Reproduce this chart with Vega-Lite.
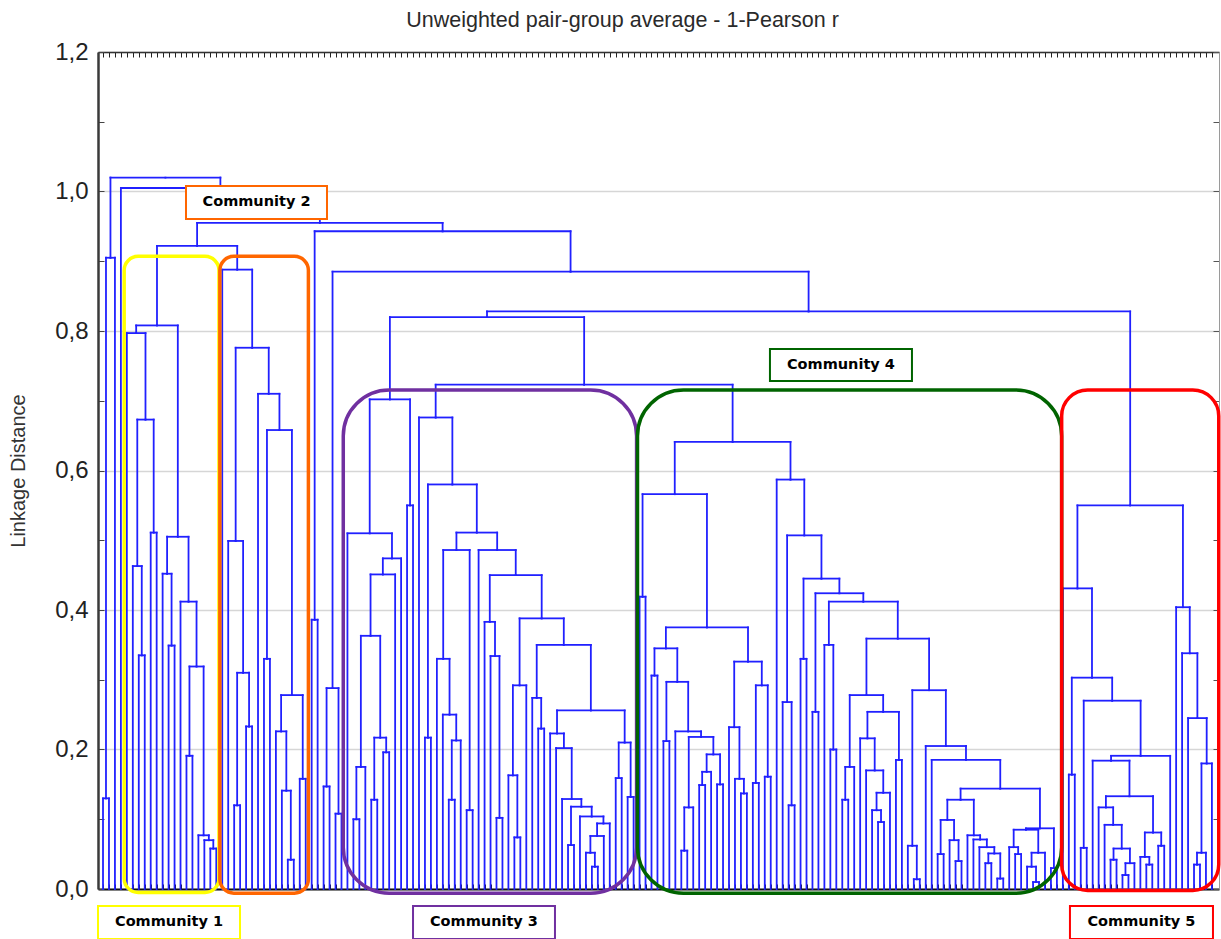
{
"$schema":"https://vega.github.io/schema/vega-lite/v6.json",
"width":1121,"height":837,
"autosize":{"type":"none"},
"padding":{"left":98,"top":52,"right":2,"bottom":50},
"background":"white",
"title":{"text":"Unweighted pair-group average - 1-Pearson r","font":"Liberation Sans, Arial, sans-serif","fontSize":21.5,"fontWeight":"normal","color":"#2a2a2a","anchor":"middle","dx":-36,"offset":-8,"baseline":"alphabetic"},
"config":{"view":{"stroke":null}},
"datasets":{
"links":[
{"x":0,"h":0,"px":0.5,"ph":0.13},{"x":1,"h":0,"px":0.5,"ph":0.13},
{"x":0.5,"h":0.13,"px":1.25,"ph":0.905},{"x":2,"h":0,"px":1.25,"ph":0.905},
{"x":1.25,"h":0.905,"px":10.469,"ph":1.02},{"x":19.687,"h":1.005,"px":10.469,"ph":1.02},
{"x":3,"h":0,"px":19.687,"ph":1.005},{"x":36.373,"h":0.955,"px":19.687,"ph":1.005},
{"x":15.783,"h":0.922,"px":36.373,"ph":0.955},{"x":56.963,"h":0.943,"px":36.373,"ph":0.955},
{"x":9.055,"h":0.808,"px":15.783,"ph":0.922},{"x":22.512,"h":0.888,"px":15.783,"ph":0.922},
{"x":35.5,"h":0.386,"px":56.963,"ph":0.943},{"x":78.426,"h":0.885,"px":56.963,"ph":0.943},
{"x":38.5,"h":0.288,"px":78.426,"ph":0.885},{"x":118.351,"h":0.828,"px":78.426,"ph":0.885},
{"x":64.41,"h":0.82,"px":118.351,"ph":0.828},{"x":172.292,"h":0.55,"px":118.351,"ph":0.828},
{"x":48.117,"h":0.702,"px":64.41,"ph":0.82},{"x":80.703,"h":0.723,"px":64.41,"ph":0.82},
{"x":55.799,"h":0.676,"px":80.703,"ph":0.723},{"x":105.607,"h":0.641,"px":80.703,"ph":0.723},
{"x":95.901,"h":0.566,"px":105.607,"ph":0.641},{"x":115.314,"h":0.587,"px":105.607,"ph":0.641},
{"x":6,"h":0,"px":6.5,"ph":0.335},{"x":7,"h":0,"px":6.5,"ph":0.335},
{"x":5,"h":0,"px":5.75,"ph":0.463},{"x":6.5,"h":0.335,"px":5.75,"ph":0.463},
{"x":8,"h":0,"px":8.5,"ph":0.511},{"x":9,"h":0,"px":8.5,"ph":0.511},
{"x":5.75,"h":0.463,"px":7.125,"ph":0.673},{"x":8.5,"h":0.511,"px":7.125,"ph":0.673},
{"x":4,"h":0,"px":5.563,"ph":0.797},{"x":7.125,"h":0.673,"px":5.563,"ph":0.797},
{"x":11,"h":0,"px":11.5,"ph":0.349},{"x":12,"h":0,"px":11.5,"ph":0.349},
{"x":10,"h":0,"px":10.75,"ph":0.452},{"x":11.5,"h":0.349,"px":10.75,"ph":0.452},
{"x":14,"h":0,"px":14.5,"ph":0.191},{"x":15,"h":0,"px":14.5,"ph":0.191},
{"x":18,"h":0,"px":18.5,"ph":0.058},{"x":19,"h":0,"px":18.5,"ph":0.058},
{"x":17,"h":0,"px":17.75,"ph":0.07},{"x":18.5,"h":0.058,"px":17.75,"ph":0.07},
{"x":16,"h":0,"px":16.875,"ph":0.077},{"x":17.75,"h":0.07,"px":16.875,"ph":0.077},
{"x":14.5,"h":0.191,"px":15.688,"ph":0.319},{"x":16.875,"h":0.077,"px":15.688,"ph":0.319},
{"x":13,"h":0,"px":14.344,"ph":0.412},{"x":15.688,"h":0.319,"px":14.344,"ph":0.412},
{"x":10.75,"h":0.452,"px":12.547,"ph":0.505},{"x":14.344,"h":0.412,"px":12.547,"ph":0.505},
{"x":5.563,"h":0.797,"px":9.055,"ph":0.808},{"x":12.547,"h":0.505,"px":9.055,"ph":0.808},
{"x":22,"h":0,"px":22.5,"ph":0.12},{"x":23,"h":0,"px":22.5,"ph":0.12},
{"x":24,"h":0,"px":24.5,"ph":0.233},{"x":25,"h":0,"px":24.5,"ph":0.233},
{"x":22.5,"h":0.12,"px":23.5,"ph":0.31},{"x":24.5,"h":0.233,"px":23.5,"ph":0.31},
{"x":21,"h":0,"px":22.25,"ph":0.499},{"x":23.5,"h":0.31,"px":22.25,"ph":0.499},
{"x":27,"h":0,"px":27.5,"ph":0.33},{"x":28,"h":0,"px":27.5,"ph":0.33},
{"x":31,"h":0,"px":31.5,"ph":0.042},{"x":32,"h":0,"px":31.5,"ph":0.042},
{"x":30,"h":0,"px":30.75,"ph":0.141},{"x":31.5,"h":0.042,"px":30.75,"ph":0.141},
{"x":29,"h":0,"px":29.875,"ph":0.226},{"x":30.75,"h":0.141,"px":29.875,"ph":0.226},
{"x":33,"h":0,"px":33.5,"ph":0.158},{"x":34,"h":0,"px":33.5,"ph":0.158},
{"x":29.875,"h":0.226,"px":31.688,"ph":0.278},{"x":33.5,"h":0.158,"px":31.688,"ph":0.278},
{"x":27.5,"h":0.33,"px":29.594,"ph":0.658},{"x":31.688,"h":0.278,"px":29.594,"ph":0.658},
{"x":26,"h":0,"px":27.797,"ph":0.71},{"x":29.594,"h":0.658,"px":27.797,"ph":0.71},
{"x":22.25,"h":0.499,"px":25.023,"ph":0.776},{"x":27.797,"h":0.71,"px":25.023,"ph":0.776},
{"x":20,"h":0,"px":22.512,"ph":0.888},{"x":25.023,"h":0.776,"px":22.512,"ph":0.888},
{"x":35,"h":0,"px":35.5,"ph":0.386},{"x":36,"h":0,"px":35.5,"ph":0.386},
{"x":37,"h":0,"px":37.5,"ph":0.147},{"x":38,"h":0,"px":37.5,"ph":0.147},
{"x":39,"h":0,"px":39.5,"ph":0.108},{"x":40,"h":0,"px":39.5,"ph":0.108},
{"x":37.5,"h":0.147,"px":38.5,"ph":0.288},{"x":39.5,"h":0.108,"px":38.5,"ph":0.288},
{"x":42,"h":0,"px":42.5,"ph":0.1},{"x":43,"h":0,"px":42.5,"ph":0.1},
{"x":42.5,"h":0.1,"px":43.25,"ph":0.175},{"x":44,"h":0,"px":43.25,"ph":0.175},
{"x":45,"h":0,"px":45.5,"ph":0.128},{"x":46,"h":0,"px":45.5,"ph":0.128},
{"x":47,"h":0,"px":47.5,"ph":0.196},{"x":48,"h":0,"px":47.5,"ph":0.196},
{"x":45.5,"h":0.128,"px":46.5,"ph":0.217},{"x":47.5,"h":0.196,"px":46.5,"ph":0.217},
{"x":43.25,"h":0.175,"px":44.875,"ph":0.363},{"x":46.5,"h":0.217,"px":44.875,"ph":0.363},
{"x":44.875,"h":0.363,"px":46.938,"ph":0.451},{"x":49,"h":0,"px":46.938,"ph":0.451},
{"x":46.938,"h":0.451,"px":48.469,"ph":0.474},{"x":50,"h":0,"px":48.469,"ph":0.474},
{"x":41,"h":0,"px":44.734,"ph":0.51},{"x":48.469,"h":0.474,"px":44.734,"ph":0.51},
{"x":51,"h":0,"px":51.5,"ph":0.55},{"x":52,"h":0,"px":51.5,"ph":0.55},
{"x":44.734,"h":0.51,"px":48.117,"ph":0.702},{"x":51.5,"h":0.55,"px":48.117,"ph":0.702},
{"x":54,"h":0,"px":54.5,"ph":0.217},{"x":55,"h":0,"px":54.5,"ph":0.217},
{"x":58,"h":0,"px":58.5,"ph":0.128},{"x":59,"h":0,"px":58.5,"ph":0.128},
{"x":58.5,"h":0.128,"px":59.25,"ph":0.213},{"x":60,"h":0,"px":59.25,"ph":0.213},
{"x":57,"h":0,"px":58.125,"ph":0.25},{"x":59.25,"h":0.213,"px":58.125,"ph":0.25},
{"x":56,"h":0,"px":57.063,"ph":0.33},{"x":58.125,"h":0.25,"px":57.063,"ph":0.33},
{"x":61,"h":0,"px":61.5,"ph":0.113},{"x":62,"h":0,"px":61.5,"ph":0.113},
{"x":57.063,"h":0.33,"px":59.281,"ph":0.486},{"x":61.5,"h":0.113,"px":59.281,"ph":0.486},
{"x":66,"h":0,"px":66.5,"ph":0.102},{"x":67,"h":0,"px":66.5,"ph":0.102},
{"x":65,"h":0,"px":65.75,"ph":0.334},{"x":66.5,"h":0.102,"px":65.75,"ph":0.334},
{"x":64,"h":0,"px":64.875,"ph":0.383},{"x":65.75,"h":0.334,"px":64.875,"ph":0.383},
{"x":69,"h":0,"px":69.5,"ph":0.074},{"x":70,"h":0,"px":69.5,"ph":0.074},
{"x":68,"h":0,"px":68.75,"ph":0.163},{"x":69.5,"h":0.074,"px":68.75,"ph":0.163},
{"x":68.75,"h":0.163,"px":69.875,"ph":0.292},{"x":71,"h":0,"px":69.875,"ph":0.292},
{"x":73,"h":0,"px":73.5,"ph":0.23},{"x":74,"h":0,"px":73.5,"ph":0.23},
{"x":72,"h":0,"px":72.75,"ph":0.274},{"x":73.5,"h":0.23,"px":72.75,"ph":0.274},
{"x":82,"h":0,"px":82.5,"ph":0.032},{"x":83,"h":0,"px":82.5,"ph":0.032},
{"x":81,"h":0,"px":81.75,"ph":0.052},{"x":82.5,"h":0.032,"px":81.75,"ph":0.052},
{"x":81.75,"h":0.052,"px":82.875,"ph":0.076},{"x":84,"h":0,"px":82.875,"ph":0.076},
{"x":82.875,"h":0.076,"px":83.938,"ph":0.094},{"x":85,"h":0,"px":83.938,"ph":0.094},
{"x":80,"h":0,"px":81.969,"ph":0.104},{"x":83.938,"h":0.094,"px":81.969,"ph":0.104},
{"x":78,"h":0,"px":78.5,"ph":0.063},{"x":79,"h":0,"px":78.5,"ph":0.063},
{"x":78.5,"h":0.063,"px":80.234,"ph":0.118},{"x":81.969,"h":0.104,"px":80.234,"ph":0.118},
{"x":77,"h":0,"px":78.617,"ph":0.129},{"x":80.234,"h":0.118,"px":78.617,"ph":0.129},
{"x":76,"h":0,"px":77.309,"ph":0.202},{"x":78.617,"h":0.129,"px":77.309,"ph":0.202},
{"x":75,"h":0,"px":76.154,"ph":0.223},{"x":77.309,"h":0.202,"px":76.154,"ph":0.223},
{"x":86,"h":0,"px":86.5,"ph":0.159},{"x":87,"h":0,"px":86.5,"ph":0.159},
{"x":88,"h":0,"px":88.5,"ph":0.132},{"x":89,"h":0,"px":88.5,"ph":0.132},
{"x":86.5,"h":0.159,"px":87.5,"ph":0.21},{"x":88.5,"h":0.132,"px":87.5,"ph":0.21},
{"x":76.154,"h":0.223,"px":81.827,"ph":0.256},{"x":87.5,"h":0.21,"px":81.827,"ph":0.256},
{"x":72.75,"h":0.274,"px":77.289,"ph":0.35},{"x":81.827,"h":0.256,"px":77.289,"ph":0.35},
{"x":69.875,"h":0.292,"px":73.582,"ph":0.388},{"x":77.289,"h":0.35,"px":73.582,"ph":0.388},
{"x":64.875,"h":0.383,"px":69.228,"ph":0.45},{"x":73.582,"h":0.388,"px":69.228,"ph":0.45},
{"x":63,"h":0,"px":66.114,"ph":0.486},{"x":69.228,"h":0.45,"px":66.114,"ph":0.486},
{"x":59.281,"h":0.486,"px":62.698,"ph":0.511},{"x":66.114,"h":0.486,"px":62.698,"ph":0.511},
{"x":54.5,"h":0.217,"px":58.599,"ph":0.58},{"x":62.698,"h":0.511,"px":58.599,"ph":0.58},
{"x":53,"h":0,"px":55.799,"ph":0.676},{"x":58.599,"h":0.58,"px":55.799,"ph":0.676},
{"x":90,"h":0,"px":90.5,"ph":0.419},{"x":91,"h":0,"px":90.5,"ph":0.419},
{"x":92,"h":0,"px":92.5,"ph":0.306},{"x":93,"h":0,"px":92.5,"ph":0.306},
{"x":94,"h":0,"px":94.5,"ph":0.212},{"x":95,"h":0,"px":94.5,"ph":0.212},
{"x":97,"h":0,"px":97.5,"ph":0.055},{"x":98,"h":0,"px":97.5,"ph":0.055},
{"x":97.5,"h":0.055,"px":98.25,"ph":0.117},{"x":99,"h":0,"px":98.25,"ph":0.117},
{"x":100,"h":0,"px":100.5,"ph":0.149},{"x":101,"h":0,"px":100.5,"ph":0.149},
{"x":100.5,"h":0.149,"px":101.25,"ph":0.168},{"x":102,"h":0,"px":101.25,"ph":0.168},
{"x":103,"h":0,"px":103.5,"ph":0.15},{"x":104,"h":0,"px":103.5,"ph":0.15},
{"x":101.25,"h":0.168,"px":102.375,"ph":0.193},{"x":103.5,"h":0.15,"px":102.375,"ph":0.193},
{"x":98.25,"h":0.117,"px":100.313,"ph":0.218},{"x":102.375,"h":0.193,"px":100.313,"ph":0.218},
{"x":96,"h":0,"px":98.156,"ph":0.226},{"x":100.313,"h":0.218,"px":98.156,"ph":0.226},
{"x":94.5,"h":0.212,"px":96.328,"ph":0.297},{"x":98.156,"h":0.226,"px":96.328,"ph":0.297},
{"x":92.5,"h":0.306,"px":94.414,"ph":0.345},{"x":96.328,"h":0.297,"px":94.414,"ph":0.345},
{"x":107,"h":0,"px":107.5,"ph":0.137},{"x":108,"h":0,"px":107.5,"ph":0.137},
{"x":106,"h":0,"px":106.75,"ph":0.158},{"x":107.5,"h":0.137,"px":106.75,"ph":0.158},
{"x":105,"h":0,"px":105.875,"ph":0.232},{"x":106.75,"h":0.158,"px":105.875,"ph":0.232},
{"x":109,"h":0,"px":109.5,"ph":0.152},{"x":110,"h":0,"px":109.5,"ph":0.152},
{"x":111,"h":0,"px":111.5,"ph":0.161},{"x":112,"h":0,"px":111.5,"ph":0.161},
{"x":109.5,"h":0.152,"px":110.5,"ph":0.292},{"x":111.5,"h":0.161,"px":110.5,"ph":0.292},
{"x":105.875,"h":0.232,"px":108.188,"ph":0.326},{"x":110.5,"h":0.292,"px":108.188,"ph":0.326},
{"x":94.414,"h":0.345,"px":101.301,"ph":0.375},{"x":108.188,"h":0.326,"px":101.301,"ph":0.375},
{"x":90.5,"h":0.419,"px":95.901,"ph":0.566},{"x":101.301,"h":0.375,"px":95.901,"ph":0.566},
{"x":115,"h":0,"px":115.5,"ph":0.12},{"x":116,"h":0,"px":115.5,"ph":0.12},
{"x":114,"h":0,"px":114.75,"ph":0.268},{"x":115.5,"h":0.12,"px":114.75,"ph":0.268},
{"x":117,"h":0,"px":117.5,"ph":0.33},{"x":118,"h":0,"px":117.5,"ph":0.33},
{"x":119,"h":0,"px":119.5,"ph":0.254},{"x":120,"h":0,"px":119.5,"ph":0.254},
{"x":122,"h":0,"px":122.5,"ph":0.2},{"x":123,"h":0,"px":122.5,"ph":0.2},
{"x":121,"h":0,"px":121.75,"ph":0.35},{"x":122.5,"h":0.2,"px":121.75,"ph":0.35},
{"x":124,"h":0,"px":124.5,"ph":0.128},{"x":125,"h":0,"px":124.5,"ph":0.128},
{"x":124.5,"h":0.128,"px":125.25,"ph":0.175},{"x":126,"h":0,"px":125.25,"ph":0.175},
{"x":130,"h":0,"px":130.5,"ph":0.096},{"x":131,"h":0,"px":130.5,"ph":0.096},
{"x":129,"h":0,"px":129.75,"ph":0.113},{"x":130.5,"h":0.096,"px":129.75,"ph":0.113},
{"x":129.75,"h":0.113,"px":130.875,"ph":0.138},{"x":132,"h":0,"px":130.875,"ph":0.138},
{"x":128,"h":0,"px":129.438,"ph":0.17},{"x":130.875,"h":0.138,"px":129.438,"ph":0.17},
{"x":127,"h":0,"px":128.219,"ph":0.216},{"x":129.438,"h":0.17,"px":128.219,"ph":0.216},
{"x":133,"h":0,"px":133.5,"ph":0.185},{"x":134,"h":0,"px":133.5,"ph":0.185},
{"x":128.219,"h":0.216,"px":130.859,"ph":0.254},{"x":133.5,"h":0.185,"px":130.859,"ph":0.254},
{"x":125.25,"h":0.175,"px":128.055,"ph":0.278},{"x":130.859,"h":0.254,"px":128.055,"ph":0.278},
{"x":136,"h":0,"px":136.5,"ph":0.014},{"x":137,"h":0,"px":136.5,"ph":0.014},
{"x":135,"h":0,"px":135.75,"ph":0.062},{"x":136.5,"h":0.014,"px":135.75,"ph":0.062},
{"x":140,"h":0,"px":140.5,"ph":0.05},{"x":141,"h":0,"px":140.5,"ph":0.05},
{"x":143,"h":0,"px":143.5,"ph":0.04},{"x":144,"h":0,"px":143.5,"ph":0.04},
{"x":142,"h":0,"px":142.75,"ph":0.07},{"x":143.5,"h":0.04,"px":142.75,"ph":0.07},
{"x":140.5,"h":0.05,"px":141.625,"ph":0.099},{"x":142.75,"h":0.07,"px":141.625,"ph":0.099},
{"x":148,"h":0,"px":148.5,"ph":0.037},{"x":149,"h":0,"px":148.5,"ph":0.037},
{"x":150,"h":0,"px":150.5,"ph":0.015},{"x":151,"h":0,"px":150.5,"ph":0.015},
{"x":148.5,"h":0.037,"px":149.5,"ph":0.051},{"x":150.5,"h":0.015,"px":149.5,"ph":0.051},
{"x":147,"h":0,"px":148.25,"ph":0.06},{"x":149.5,"h":0.051,"px":148.25,"ph":0.06},
{"x":146,"h":0,"px":147.125,"ph":0.071},{"x":148.25,"h":0.06,"px":147.125,"ph":0.071},
{"x":145,"h":0,"px":146.063,"ph":0.077},{"x":147.125,"h":0.071,"px":146.063,"ph":0.077},
{"x":141.625,"h":0.099,"px":143.844,"ph":0.128},{"x":146.063,"h":0.077,"px":143.844,"ph":0.128},
{"x":153,"h":0,"px":153.5,"ph":0.05},{"x":154,"h":0,"px":153.5,"ph":0.05},
{"x":152,"h":0,"px":152.75,"ph":0.06},{"x":153.5,"h":0.05,"px":152.75,"ph":0.06},
{"x":156,"h":0,"px":156.5,"ph":0.01},{"x":157,"h":0,"px":156.5,"ph":0.01},
{"x":155,"h":0,"px":155.75,"ph":0.032},{"x":156.5,"h":0.01,"px":155.75,"ph":0.032},
{"x":155.75,"h":0.032,"px":156.875,"ph":0.052},{"x":158,"h":0,"px":156.875,"ph":0.052},
{"x":152.75,"h":0.06,"px":154.813,"ph":0.085},{"x":156.875,"h":0.052,"px":154.813,"ph":0.085},
{"x":159,"h":0,"px":159.5,"ph":0.03},{"x":160,"h":0,"px":159.5,"ph":0.03},
{"x":154.813,"h":0.085,"px":157.156,"ph":0.087},{"x":159.5,"h":0.03,"px":157.156,"ph":0.087},
{"x":143.844,"h":0.128,"px":150.5,"ph":0.144},{"x":157.156,"h":0.087,"px":150.5,"ph":0.144},
{"x":139,"h":0,"px":144.75,"ph":0.185},{"x":150.5,"h":0.144,"px":144.75,"ph":0.185},
{"x":138,"h":0,"px":141.375,"ph":0.205},{"x":144.75,"h":0.185,"px":141.375,"ph":0.205},
{"x":135.75,"h":0.062,"px":138.563,"ph":0.285},{"x":141.375,"h":0.205,"px":138.563,"ph":0.285},
{"x":128.055,"h":0.278,"px":133.309,"ph":0.359},{"x":138.563,"h":0.285,"px":133.309,"ph":0.359},
{"x":121.75,"h":0.35,"px":127.529,"ph":0.412},{"x":133.309,"h":0.359,"px":127.529,"ph":0.412},
{"x":119.5,"h":0.254,"px":123.515,"ph":0.424},{"x":127.529,"h":0.412,"px":123.515,"ph":0.424},
{"x":117.5,"h":0.33,"px":120.507,"ph":0.445},{"x":123.515,"h":0.424,"px":120.507,"ph":0.445},
{"x":114.75,"h":0.268,"px":117.629,"ph":0.507},{"x":120.507,"h":0.445,"px":117.629,"ph":0.507},
{"x":113,"h":0,"px":115.314,"ph":0.587},{"x":117.629,"h":0.507,"px":115.314,"ph":0.587},
{"x":162,"h":0,"px":162.5,"ph":0.164},{"x":163,"h":0,"px":162.5,"ph":0.164},
{"x":164,"h":0,"px":164.5,"ph":0.059},{"x":165,"h":0,"px":164.5,"ph":0.059},
{"x":169,"h":0,"px":169.5,"ph":0.042},{"x":170,"h":0,"px":169.5,"ph":0.042},
{"x":171,"h":0,"px":171.5,"ph":0.02},{"x":172,"h":0,"px":171.5,"ph":0.02},
{"x":171.5,"h":0.02,"px":172.25,"ph":0.037},{"x":173,"h":0,"px":172.25,"ph":0.037},
{"x":169.5,"h":0.042,"px":170.875,"ph":0.058},{"x":172.25,"h":0.037,"px":170.875,"ph":0.058},
{"x":168,"h":0,"px":169.438,"ph":0.092},{"x":170.875,"h":0.058,"px":169.438,"ph":0.092},
{"x":167,"h":0,"px":168.219,"ph":0.117},{"x":169.438,"h":0.092,"px":168.219,"ph":0.117},
{"x":175,"h":0,"px":175.5,"ph":0.035},{"x":176,"h":0,"px":175.5,"ph":0.035},
{"x":174,"h":0,"px":174.75,"ph":0.046},{"x":175.5,"h":0.035,"px":174.75,"ph":0.046},
{"x":177,"h":0,"px":177.5,"ph":0.062},{"x":178,"h":0,"px":177.5,"ph":0.062},
{"x":174.75,"h":0.046,"px":176.125,"ph":0.081},{"x":177.5,"h":0.062,"px":176.125,"ph":0.081},
{"x":168.219,"h":0.117,"px":172.172,"ph":0.133},{"x":176.125,"h":0.081,"px":172.172,"ph":0.133},
{"x":166,"h":0,"px":169.086,"ph":0.184},{"x":172.172,"h":0.133,"px":169.086,"ph":0.184},
{"x":169.086,"h":0.184,"px":174.043,"ph":0.191},{"x":179,"h":0,"px":174.043,"ph":0.191},
{"x":164.5,"h":0.059,"px":169.272,"ph":0.27},{"x":174.043,"h":0.191,"px":169.272,"ph":0.27},
{"x":162.5,"h":0.164,"px":165.886,"ph":0.303},{"x":169.272,"h":0.27,"px":165.886,"ph":0.303},
{"x":161,"h":0,"px":163.443,"ph":0.431},{"x":165.886,"h":0.303,"px":163.443,"ph":0.431},
{"x":183,"h":0,"px":183.5,"ph":0.035},{"x":184,"h":0,"px":183.5,"ph":0.035},
{"x":183.5,"h":0.035,"px":184.25,"ph":0.052},{"x":185,"h":0,"px":184.25,"ph":0.052},
{"x":184.25,"h":0.052,"px":185.125,"ph":0.18},{"x":186,"h":0,"px":185.125,"ph":0.18},
{"x":182,"h":0,"px":183.563,"ph":0.245},{"x":185.125,"h":0.18,"px":183.563,"ph":0.245},
{"x":181,"h":0,"px":182.282,"ph":0.338},{"x":183.563,"h":0.245,"px":182.282,"ph":0.338},
{"x":180,"h":0,"px":181.141,"ph":0.404},{"x":182.282,"h":0.338,"px":181.141,"ph":0.404},
{"x":163.443,"h":0.431,"px":172.292,"ph":0.55},{"x":181.141,"h":0.404,"px":172.292,"ph":0.55}
],
"boxes":[
{"community":"Community 1","x1":3.55,"x2":19.45,"top":0.907,"bottom":-0.005},
{"community":"Community 2","x1":19.6,"x2":34.45,"top":0.907,"bottom":-0.006},
{"community":"Community 3","x1":40.3,"x2":89.5,"top":0.7154,"bottom":-0.006},
{"community":"Community 4","x1":89.65,"x2":160.8,"top":0.7154,"bottom":-0.006},
{"community":"Community 5","x1":160.8,"x2":187.15,"top":0.7154,"bottom":-0.002}
],
"tags":[
{"community":"Community 1","x1":-0.84,"x2":22.98,"top":-0.0244,"bottom":-0.0717,"cx":11.07,"cy":-0.048},
{"community":"Community 2","x1":13.92,"x2":37.57,"top":1.0079,"bottom":0.9606,"cx":25.75,"cy":0.9843},
{"community":"Community 3","x1":52.0,"x2":75.81,"top":-0.0244,"bottom":-0.0717,"cx":63.9,"cy":-0.048},
{"community":"Community 4","x1":111.87,"x2":135.69,"top":0.7742,"bottom":0.7283,"cx":123.78,"cy":0.7513},
{"community":"Community 5","x1":162.19,"x2":186.18,"top":-0.0244,"bottom":-0.0717,"cx":174.18,"cy":-0.048}
]
},
"layer":[
{"data":{"name":"links"},
 "mark":{"type":"rule","color":"#2020ff","strokeWidth":1.8,"strokeCap":"square"},
 "encoding":{
  "x":{"field":"x","type":"quantitative","scale":{"domain":[-0.84,187.19],"nice":false,"zero":false},
   "axis":{"orient":"bottom","title":null,"labels":false,"grid":false,"values":[0,1,2,3,4,5,6,7,8,9,10,11,12,13,14,15,16,17,18,19,20,21,22,23,24,25,26,27,28,29,30,31,32,33,34,35,36,37,38,39,40,41,42,43,44,45,46,47,48,49,50,51,52,53,54,55,56,57,58,59,60,61,62,63,64,65,66,67,68,69,70,71,72,73,74,75,76,77,78,79,80,81,82,83,84,85,86,87,88,89,90,91,92,93,94,95,96,97,98,99,100,101,102,103,104,105,106,107,108,109,110,111,112,113,114,115,116,117,118,119,120,121,122,123,124,125,126,127,128,129,130,131,132,133,134,135,136,137,138,139,140,141,142,143,144,145,146,147,148,149,150,151,152,153,154,155,156,157,158,159,160,161,162,163,164,165,166,167,168,169,170,171,172,173,174,175,176,177,178,179,180,181,182,183,184,185,186],"tickSize":-5,"tickColor":"#111111","tickWidth":1,"domainColor":"#111111","domainWidth":2}},
  "y":{"field":"h","type":"quantitative","scale":{"domain":[0,1.2],"nice":false,"zero":false},
   "axis":{"orient":"left","title":"Linkage Distance","values":[0,0.1,0.2,0.3,0.4,0.5,0.6,0.7,0.8,0.9,1,1.1,1.2],
    "labelExpr":"round(datum.value*10)%2==0 ? replace(format(datum.value,'.1f'),'.',',') : ''",
    "labelFont":"Liberation Sans, Arial, sans-serif","labelFontSize":24,"labelColor":"#222222","labelPadding":16,"labelFlush":false,"labelOverlap":false,
    "tickSize":-6,"tickColor":"#444444","tickWidth":1,"domainColor":"#3a3a3a","domainWidth":2.5,
    "grid":true,"gridColor":"#d6d6d6","gridWidth":1.5,"gridOpacity":{"condition":{"test":"round(datum.value*10)%2==1","value":0},"value":1},
    "titleFont":"Liberation Sans, Arial, sans-serif","titleFontSize":20,"titleFontWeight":"normal","titleColor":"#333333","titlePadding":26}},
  "y2":{"field":"ph"}
 }},
{"data":{"name":"links"},
 "mark":{"type":"rule","color":"#2020ff","strokeWidth":1.8,"strokeCap":"square"},
 "encoding":{
  "x":{"field":"x","type":"quantitative","scale":{"domain":[-0.84,187.19],"nice":false,"zero":false},
   "axis":{"orient":"top","title":null,"labels":false,"grid":false,"values":[0,1,2,3,4,5,6,7,8,9,10,11,12,13,14,15,16,17,18,19,20,21,22,23,24,25,26,27,28,29,30,31,32,33,34,35,36,37,38,39,40,41,42,43,44,45,46,47,48,49,50,51,52,53,54,55,56,57,58,59,60,61,62,63,64,65,66,67,68,69,70,71,72,73,74,75,76,77,78,79,80,81,82,83,84,85,86,87,88,89,90,91,92,93,94,95,96,97,98,99,100,101,102,103,104,105,106,107,108,109,110,111,112,113,114,115,116,117,118,119,120,121,122,123,124,125,126,127,128,129,130,131,132,133,134,135,136,137,138,139,140,141,142,143,144,145,146,147,148,149,150,151,152,153,154,155,156,157,158,159,160,161,162,163,164,165,166,167,168,169,170,171,172,173,174,175,176,177,178,179,180,181,182,183,184,185,186],"tickSize":-5,"tickColor":"#222222","tickWidth":1,"domainColor":"#333333","domainWidth":1.5}},
  "x2":{"field":"px"},
  "y":{"field":"ph","type":"quantitative","scale":{"domain":[0,1.2],"nice":false,"zero":false},
   "axis":{"orient":"right","title":null,"labels":false,"grid":false,"values":[0,0.1,0.2,0.3,0.4,0.5,0.6,0.7,0.8,0.9,1,1.1,1.2],"tickSize":-6,"tickColor":"#555555","domainColor":"#9a9a9a","domainWidth":1}}
 }},
{"data":{"name":"boxes"},
 "transform":[{"filter":"datum.community=='Community 1' || datum.community=='Community 2'"}],
 "mark":{"type":"rect","fill":null,"fillOpacity":0,"strokeWidth":3.5,"cornerRadius":14},
 "encoding":{
  "x":{"field":"x1","type":"quantitative","scale":{"domain":[-0.84,187.19],"nice":false,"zero":false},"axis":null},
  "x2":{"field":"x2"},
  "y":{"field":"top","type":"quantitative","scale":{"domain":[0,1.2],"nice":false,"zero":false},"axis":null},
  "y2":{"field":"bottom"},
  "stroke":{"field":"community","type":"nominal","scale":{"domain":["Community 1","Community 2","Community 3","Community 4","Community 5"],"range":["#ffff00","#ff6600","#7030a0","#006400","#ff0000"]},"legend":null}
 }},
{"data":{"name":"boxes"},
 "transform":[{"filter":"datum.community=='Community 3' || datum.community=='Community 4'"}],
 "mark":{"type":"rect","fill":null,"fillOpacity":0,"strokeWidth":3.5,"cornerRadius":46},
 "encoding":{
  "x":{"field":"x1","type":"quantitative","scale":{"domain":[-0.84,187.19],"nice":false,"zero":false},"axis":null},
  "x2":{"field":"x2"},
  "y":{"field":"top","type":"quantitative","scale":{"domain":[0,1.2],"nice":false,"zero":false},"axis":null},
  "y2":{"field":"bottom"},
  "stroke":{"field":"community","type":"nominal","legend":null}
 }},
{"data":{"name":"boxes"},
 "transform":[{"filter":"datum.community=='Community 5'"}],
 "mark":{"type":"rect","fill":null,"fillOpacity":0,"strokeWidth":3.5,"cornerRadius":26},
 "encoding":{
  "x":{"field":"x1","type":"quantitative","scale":{"domain":[-0.84,187.19],"nice":false,"zero":false},"axis":null},
  "x2":{"field":"x2"},
  "y":{"field":"top","type":"quantitative","scale":{"domain":[0,1.2],"nice":false,"zero":false},"axis":null},
  "y2":{"field":"bottom"},
  "stroke":{"field":"community","type":"nominal","legend":null}
 }},
{"data":{"name":"tags"},
 "mark":{"type":"rect","fill":"white","strokeWidth":2},
 "encoding":{
  "x":{"field":"x1","type":"quantitative","scale":{"domain":[-0.84,187.19],"nice":false,"zero":false},"axis":null},
  "x2":{"field":"x2"},
  "y":{"field":"top","type":"quantitative","scale":{"domain":[0,1.2],"nice":false,"zero":false},"axis":null},
  "y2":{"field":"bottom"},
  "stroke":{"field":"community","type":"nominal","legend":null}
 }},
{"data":{"name":"tags"},
 "mark":{"type":"text","font":"DejaVu Sans, Verdana, sans-serif","fontWeight":"bold","fontSize":14.5,"color":"#000000","align":"center","baseline":"middle"},
 "encoding":{
  "x":{"field":"cx","type":"quantitative","scale":{"domain":[-0.84,187.19],"nice":false,"zero":false},"axis":null},
  "y":{"field":"cy","type":"quantitative","scale":{"domain":[0,1.2],"nice":false,"zero":false},"axis":null},
  "text":{"field":"community"}
 }}
],
"resolve":{"axis":{"x":"independent","y":"independent"}}
}
